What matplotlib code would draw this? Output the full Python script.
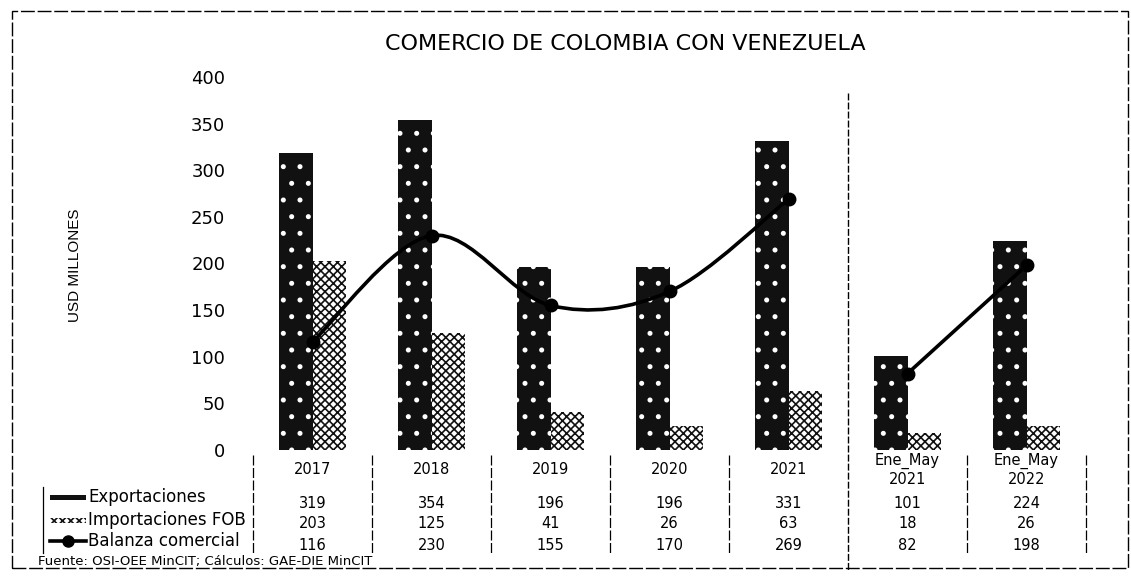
import matplotlib.pyplot as plt
from matplotlib.patches import Rectangle, PathPatch
from matplotlib.path import Path
from matplotlib.lines import Line2D
import matplotlib.transforms as mtransforms

plt.rcParams['font.family'] = ['DejaVu Sans']
plt.rcParams['hatch.linewidth'] = 1.2

# datos
categorias = ['2017', '2018', '2019', '2020', '2021', 'Ene_May\n2021', 'Ene_May\n2022']
exportaciones = [319, 354, 196, 196, 331, 101, 224]
importaciones = [203, 125, 41, 26, 63, 18, 26]
balanza = [116, 230, 155, 170, 269, 82, 198]
series = ['Exportaciones', 'Importaciones FOB', 'Balanza comercial']

W, H = 1131, 583
fig = plt.figure(figsize=(W / 100, H / 100), dpi=100)

def fx(px):
    return px / W

def fy(py):
    return 1 - py / H

# ejes principales
ax = fig.add_axes([fx(253), fy(450), (1086 - 253) / W, (450 - 77) / H])
ax.set_xlim(-0.5, len(categorias) - 0.5)
ax.set_ylim(0, 400)
for s in ax.spines.values():
    s.set_visible(False)
ax.set_xticks([])
ax.set_yticks(range(0, 401, 50))
ax.tick_params(axis='y', length=0, pad=20, labelsize=13)
ax.patch.set_alpha(0)

x = list(range(len(categorias)))
bw = 0.28
ax.bar([i - bw / 2 for i in x], exportaciones, width=bw, facecolor='#111111',
       edgecolor='white', hatch='.', linewidth=0, zorder=2)
ax.bar([i + bw / 2 for i in x], importaciones, width=bw, facecolor='white',
       edgecolor='#111111', hatch='xxxx', linewidth=0, zorder=2)


# linea suavizada (curva Bezier por tramos, como en Excel)
def linea_suave(xs, ys):
    pts = list(zip(xs, ys))
    verts = [pts[0]]
    codes = [Path.MOVETO]
    n = len(pts)
    for i in range(n - 1):
        p0 = pts[i - 1] if i > 0 else pts[i]
        p1 = pts[i]
        p2 = pts[i + 1]
        p3 = pts[i + 2] if i + 2 < n else pts[i + 1]
        c1 = (p1[0] + (p2[0] - p0[0]) / 6, p1[1] + (p2[1] - p0[1]) / 6)
        c2 = (p2[0] - (p3[0] - p1[0]) / 6, p2[1] - (p3[1] - p1[1]) / 6)
        verts += [c1, c2, p2]
        codes += [Path.CURVE4] * 3
    return PathPatch(Path(verts, codes), facecolor='none', edgecolor='black',
                     linewidth=2.6, zorder=4)

ax.add_patch(linea_suave(x[:5], balanza[:5]))
ax.add_patch(linea_suave(x[5:], balanza[5:]))
ax.plot(x, balanza, 'o', color='black', markersize=9, zorder=5)

# titulo y eje
fig.text(fx(625), fy(44), 'COMERCIO DE COLOMBIA CON VENEZUELA', ha='center',
         va='center', fontsize=16)
fig.text(fx(75), fy(265), 'USD MILLONES', rotation=90, ha='center', va='center',
         fontsize=11, family=['Liberation Sans Narrow', 'Liberation Sans'])

# tabla de datos
tx = mtransforms.blended_transform_factory(ax.transData, fig.transFigure)
for i, cat in enumerate(categorias):
    ax.text(i, fy(470), cat, transform=tx, ha='center', va='center',
            fontsize=10.5, linespacing=1.2)
    ax.text(i, fy(503), str(exportaciones[i]), transform=tx, ha='center',
            va='center', fontsize=10.5)
    ax.text(i, fy(524), str(importaciones[i]), transform=tx, ha='center',
            va='center', fontsize=10.5)
    ax.text(i, fy(545), str(balanza[i]), transform=tx, ha='center',
            va='center', fontsize=10.5)

for k in range(len(categorias) + 1):
    xe = k - 0.5
    if k == 5:
        continue
    ax.add_line(Line2D([xe, xe], [fy(455), fy(555)], transform=tx,
                       color='black', linewidth=0.9, linestyle=(0, (8, 2)),
                       clip_on=False))

# divisor entre años completos y enero-mayo
ax.add_line(Line2D([4.5, 4.5], [fy(93), fy(570)], transform=tx, color='black',
                   linewidth=1.0, linestyle=(0, (5, 1.5)), clip_on=False))

# leyenda de la tabla
fig.add_artist(Line2D([fx(43), fx(43)], [fy(487), fy(553)], color='black',
                      linewidth=0.9))
fig.add_artist(Rectangle((fx(50), fy(500)), fx(36), 5 / H, facecolor='#111111',
                         edgecolor='none'))
fig.add_artist(Rectangle((fx(50), fy(523)), fx(36), 5 / H, facecolor='white',
                         edgecolor='#111111', hatch='xxxx', linewidth=0))
fig.add_artist(Line2D([fx(50), fx(86)], [fy(541), fy(541)], color='black',
                      linewidth=2.6))
fig.add_artist(Line2D([fx(68)], [fy(541)], marker='o', color='black',
                      markersize=8))
for nombre, py in zip(series, [497, 520, 541]):
    fig.text(fx(88), fy(py), nombre, ha='left', va='center', fontsize=12)

fig.text(fx(38), fy(561), 'Fuente: OSI-OEE MinCIT; Cálculos: GAE-DIE MinCIT',
         ha='left', va='center', fontsize=9.5)

# marco exterior
fig.add_artist(Rectangle((fx(12), fy(568)), fx(1116), (568 - 11) / H,
                         fill=False, edgecolor='black', linewidth=1.0,
                         linestyle=(0, (10, 2))))

fig.savefig('out.png', dpi=100)
